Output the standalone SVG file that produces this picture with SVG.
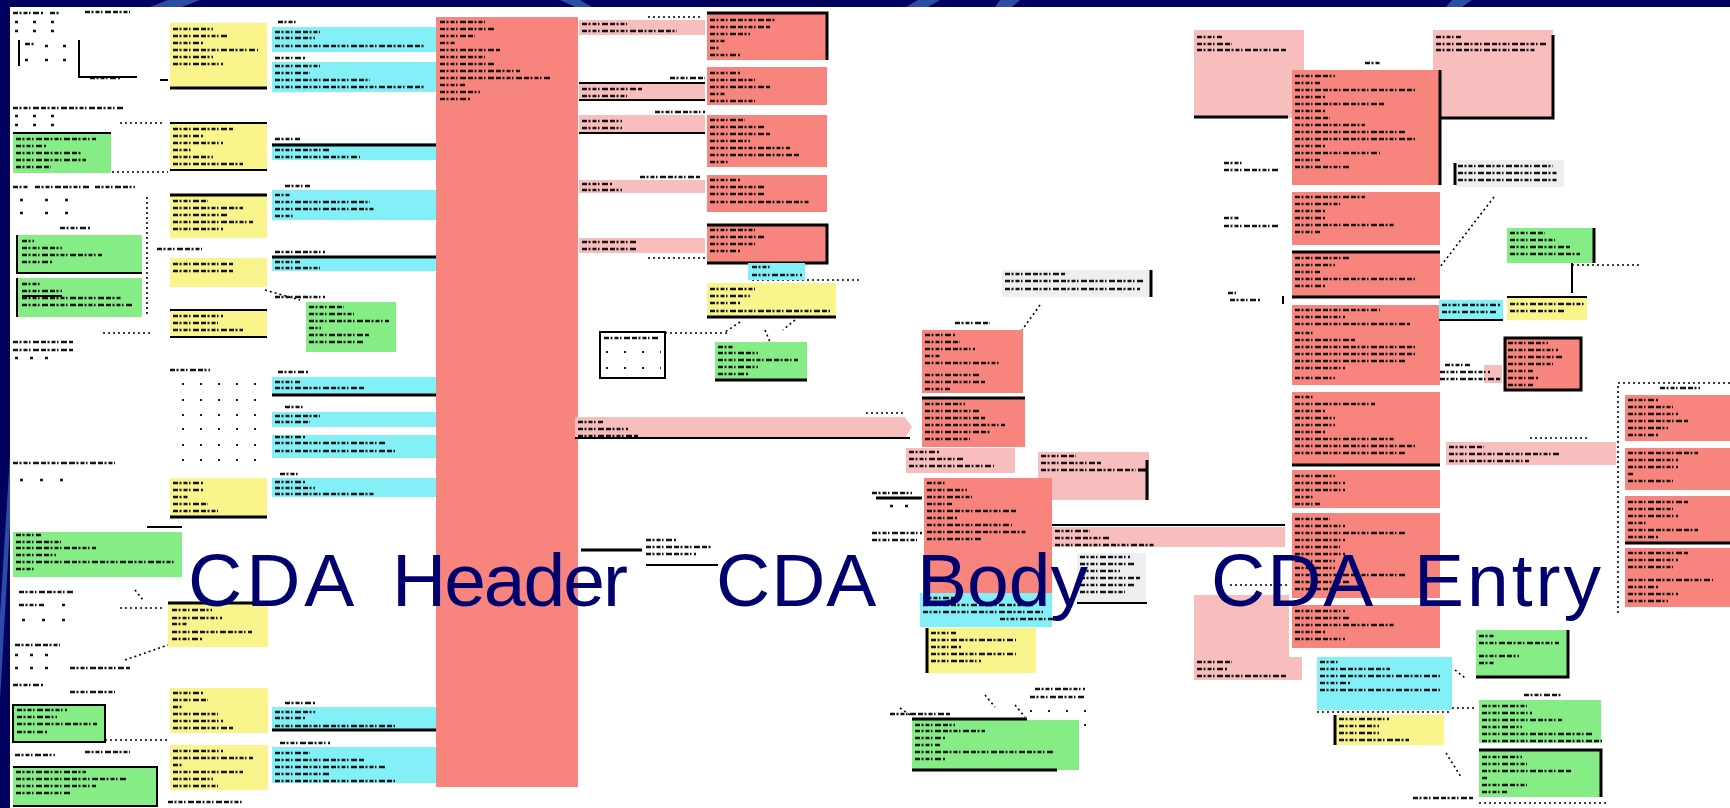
<svg xmlns="http://www.w3.org/2000/svg" width="1730" height="808" viewBox="0 0 1730 808">
<style>
.r{fill:#F7857D}.p{fill:#F8BEBE}.c{fill:#82F0F6}.y{fill:#F9F48B}.g{fill:#86EC86}.n{fill:#EFEFEF}
.tx{fill:none;stroke:#151515;stroke-width:2.4;stroke-dasharray:5 1.5 2 2 4 1.5 1.5 2.5 6 2}
.k{fill:none;stroke:#000;stroke-width:2}
.kb{fill:none;stroke:#000;stroke-width:3}
.d{fill:none;stroke:#000;stroke-width:1.6;stroke-dasharray:2 3}
.gd{fill:none;stroke:#222;stroke-width:2.2;stroke-dasharray:2 16}
.st{fill:#2C4CA6}
.lbl{font-family:"Liberation Sans",Arial,sans-serif;font-size:75px;fill:#00006E}
</style>
<g id="background">
<rect width="1730" height="808" fill="#01015F"/>
<path class="st" d="M168 0 H200 L182 7 H150 Z"/>
<path class="st" d="M560 0 H580 L592 7 H575 Z"/>
<path class="st" d="M918 0 H940 L928 7 H906 Z"/>
<path class="st" d="M1000 0 H1020 L1012 7 H995 Z"/>
<path class="st" d="M1452 0 H1472 L1462 7 H1446 Z"/>
<path class="st" d="M10 455 L10 525 L0 700 L0 615 Z"/>
<rect x="10" y="7" width="1720" height="801" fill="#FFFFFF"/>
</g>

<g id="connectors">
<path class="d" d="M112 172 H168 M120 123 H165 M147 197 V317 M103 333 H153 M265 290 L300 300 M135 590 L143 600 M120 608 H165 M125 660 L168 645 M100 740 H168"/>
<path class="d" d="M648 17 H703 M648 258 H774 M752 280 H860 M665 333 H728 M740 322 L725 332 M765 330 L770 342 M795 320 L783 330"/>
<path class="d" d="M866 413 H904 M1040 305 L1022 330 M985 695 L995 707 M1015 705 L1025 717 M900 708 L910 715"/>
<path class="d" d="M1494 197 L1440 267 M1572 265 H1642 M1530 438 H1590 M1230 585 H1290 M1317 712 H1452 M1452 708 H1474 M1455 670 L1465 678 M1446 753 L1461 777 M1479 803 H1609"/>
<path class="d" d="M1730 383 H1618 V613"/>
<path class="k" d="M1572 263 V293"/>
</g>

<g id="legend-choice">
<path class="tx" d="M13 13 h30 M50 13 h10 M85 12 h45 M15 22 h3 M33 22 h3 M51 22 h3 M15 31 h3 M33 31 h3 M51 31 h3 M25 44 h10 M45 46 h3 M63 46 h3 M25 60 h3 M45 60 h3 M63 60 h3 M90 78 h30"/>
<path class="k" d="M19 40 v26 M79 40 v37 h58 M160 80 h8"/>
</g>
<g id="Y1"><rect class="y" x="170" y="23" width="97" height="65"/><path class="tx" d="M173 29 h40 M173 36 h55 M173 43 h30 M173 50 h85 M173 57 h40 M173 64 h50"/><path class="kb" d="M170 88 h97"/></g>
<g id="C1"><rect class="c" x="272" y="27" width="164" height="25"/><path class="tx" d="M278 22 h20 M275 32 h45 M275 38 h40 M275 46 h150"/></g>
<g id="C2"><rect class="c" x="272" y="62" width="164" height="30"/><path class="tx" d="M275 58 h30 M275 66 h45 M275 73 h35 M275 80 h95 M275 87 h150"/></g>
<g id="legend2"><path class="tx" d="M13 108 h110 M15 116 h3 M33 116 h3 M51 116 h3 M15 125 h3 M33 125 h3 M51 125 h3"/></g>
<g id="G1"><rect class="g" x="13" y="133" width="98" height="40"/><path class="tx" d="M16 139 h80 M16 146 h30 M16 153 h65 M16 160 h70 M16 167 h35"/><path class="k" d="M13 133 h98"/></g>
<g id="Y2"><rect class="y" x="170" y="123" width="97" height="47"/><path class="tx" d="M173 129 h60 M173 136 h30 M173 143 h50 M173 150 h20 M173 157 h40 M173 164 h70"/><path class="k" d="M170 123 h97 M170 170 h97"/></g>
<g id="C3"><rect class="c" x="272" y="143" width="164" height="17"/><path class="tx" d="M275 139 h25 M275 150 h55 M275 157 h85"/><path class="kb" d="M272 145 h164"/></g>
<g id="legend3"><path class="tx" d="M13 187 h15 M35 187 h55 M95 187 h40 M20 200 h3 M45 200 h3 M65 200 h3 M20 213 h3 M45 213 h3 M65 213 h3 M60 228 h30"/></g>
<g id="Y3"><rect class="y" x="170" y="195" width="97" height="43"/><path class="tx" d="M173 201 h35 M173 208 h70 M173 215 h55 M173 222 h80 M173 229 h50"/><path class="kb" d="M170 195 h97"/></g>
<g id="C4"><rect class="c" x="272" y="190" width="164" height="30"/><path class="tx" d="M285 186 h25 M275 195 h15 M275 202 h95 M275 209 h100 M275 216 h20"/></g>
<g id="G2"><rect class="g" x="17" y="235" width="125" height="38"/><path class="tx" d="M22 241 h12 M22 248 h40 M22 255 h80 M22 262 h30"/><path class="k" d="M17 235 v38 h125"/></g>
<g id="G3"><rect class="g" x="17" y="278" width="125" height="39"/><path class="tx" d="M22 284 h20 M22 291 h40 M22 298 h100 M22 305 h110"/><path class="k" d="M17 278 v39 M22 296 h40"/></g>
<g id="label-a"><path class="tx" d="M157 249 h45"/></g>
<g id="Y4"><rect class="y" x="170" y="258" width="97" height="29"/><path class="tx" d="M173 264 h60 M173 271 h60"/></g>
<g id="C5"><rect class="c" x="272" y="258" width="164" height="13"/><path class="tx" d="M275 252 h50 M275 262 h25 M275 268 h45"/><path class="kb" d="M272 257 h164"/></g>
<g id="G4"><rect class="g" x="306" y="302" width="90" height="50"/><path class="tx" d="M275 297 h50 M309 307 h35 M309 314 h45 M309 321 h80 M309 328 h12 M309 335 h60 M309 342 h55"/></g>
<g id="Y5"><rect class="y" x="170" y="310" width="97" height="27"/><path class="tx" d="M173 316 h50 M173 323 h45 M173 330 h70"/><path class="k" d="M170 310 h97 M170 337 h97"/></g>
<g id="legend4"><path class="tx" d="M13 342 h60 M13 350 h60 M15 358 h3 M30 358 h3 M45 358 h3"/></g>
<g id="grid"><path class="tx" d="M170 370 h40"/><path class="gd" d="M182 384 h82 M182 400 h82 M182 415 h82 M182 429 h82 M182 445 h82 M182 460 h82"/></g>
<g id="C6"><rect class="c" x="272" y="377" width="164" height="18"/><path class="tx" d="M278 372 h30 M275 382 h25 M275 388 h90"/><path class="kb" d="M272 395 h164"/></g>
<g id="C7"><rect class="c" x="272" y="412" width="164" height="15"/><path class="tx" d="M285 407 h20 M275 416 h45 M275 422 h35"/></g>
<g id="C8"><rect class="c" x="272" y="435" width="164" height="23"/><path class="tx" d="M275 437 h30 M275 443 h110 M275 451 h120"/></g>
<g id="C9"><rect class="c" x="272" y="478" width="164" height="19"/><path class="tx" d="M280 474 h20 M275 482 h30 M275 488 h40 M275 494 h100"/></g>
<g id="Y6"><rect class="y" x="170" y="478" width="97" height="39"/><path class="tx" d="M173 483 h30 M173 490 h30 M173 497 h15 M173 504 h35 M173 511 h45"/><path class="kb" d="M170 517 h97"/></g>
<g id="legend5"><path class="tx" d="M13 463 h60 M70 463 h45 M20 480 h3 M40 480 h3 M60 480 h3"/></g>
<g id="G5"><rect class="g" x="13" y="532" width="169" height="45"/><path class="tx" d="M16 535 h25 M16 542 h45 M16 548 h80 M16 555 h40 M16 562 h160 M16 569 h20"/><path class="k" d="M147 527 h35"/></g>
<g id="legend6"><path class="tx" d="M19 592 h55 M19 605 h25 M62 605 h3 M22 620 h3 M42 620 h3 M62 620 h3 M15 645 h45 M15 655 h3 M30 655 h3 M45 655 h3 M15 668 h3 M30 668 h3 M45 668 h3 M70 668 h60 M13 685 h30 M70 692 h45"/></g>
<g id="Y7"><rect class="y" x="168" y="603" width="100" height="44"/><path class="tx" d="M172 610 h40 M172 618 h50 M172 624 h15 M172 632 h80 M172 639 h30"/><path class="kb" d="M168 603 h100"/></g>
<g id="G6"><rect class="g" x="13" y="705" width="92" height="37"/><path class="tx" d="M17 710 h50 M17 717 h40 M17 724 h80 M17 732 h30"/><rect class="k" x="13" y="705" width="92" height="37"/></g>
<g id="Y8"><rect class="y" x="170" y="688" width="98" height="45"/><path class="tx" d="M173 693 h30 M173 700 h35 M173 707 h10 M173 714 h45 M173 721 h50 M173 728 h60"/></g>
<g id="C10"><rect class="c" x="272" y="707" width="166" height="23"/><path class="tx" d="M285 703 h30 M275 712 h40 M275 718 h30 M275 726 h120"/><path class="kb" d="M272 730 h166"/></g>
<g id="legend7"><path class="tx" d="M15 755 h40 M85 752 h45 M168 802 h75"/></g>
<g id="G7"><rect class="g" x="13" y="767" width="144" height="40"/><path class="tx" d="M16 772 h70 M16 779 h110 M16 786 h80 M16 793 h55"/><path class="k" d="M13 767 h144 v39 h-144"/></g>
<g id="Y9"><rect class="y" x="170" y="745" width="98" height="45"/><path class="tx" d="M173 751 h50 M173 758 h80 M173 765 h10 M173 772 h70 M173 779 h40 M173 786 h45"/></g>
<g id="C11"><rect class="c" x="272" y="747" width="166" height="36"/><path class="tx" d="M280 743 h50 M275 753 h35 M275 760 h90 M275 767 h110 M275 774 h55 M275 781 h120"/></g>

<g id="ClinicalDocument"><rect class="r" x="436" y="17" width="142" height="770"/><path class="tx" d="M440 22 h45 M440 29 h55 M440 36 h35 M440 43 h15 M440 50 h60 M440 57 h45 M440 64 h55 M440 71 h80 M440 78 h110 M440 85 h25 M440 92 h40 M440 99 h30"/></g>

<g id="P1"><rect class="p" x="579" y="20" width="126" height="15"/><path class="tx" d="M582 24 h45 M582 31 h95"/></g>
<g id="RA"><rect class="r" x="707" y="13" width="120" height="47"/><path class="tx" d="M710 20 h65 M710 27 h60 M710 34 h40 M710 41 h15 M710 48 h10 M710 55 h30"/><path class="kb" d="M707 13 h120 v47"/></g>
<g id="P2"><rect class="p" x="579" y="82" width="126" height="18"/><path class="tx" d="M670 78 h35 M582 89 h60 M582 96 h45"/><path class="k" d="M579 83 h126 M579 100 h126"/></g>
<g id="RB"><rect class="r" x="707" y="67" width="120" height="38"/><path class="tx" d="M710 73 h30 M710 80 h45 M710 87 h60 M710 94 h15 M710 101 h45"/></g>
<g id="P3"><rect class="p" x="579" y="115" width="126" height="18"/><path class="tx" d="M655 112 h50 M582 121 h40 M582 128 h40"/><path class="k" d="M579 133 h126"/></g>
<g id="RC"><rect class="r" x="707" y="115" width="120" height="52"/><path class="tx" d="M710 120 h35 M710 127 h55 M710 134 h60 M710 141 h40 M710 148 h80 M710 155 h90 M710 162 h20"/></g>
<g id="P4"><rect class="p" x="579" y="180" width="126" height="13"/><path class="tx" d="M640 177 h60 M582 184 h30 M582 190 h40"/></g>
<g id="RD"><rect class="r" x="707" y="175" width="120" height="37"/><path class="tx" d="M710 180 h30 M710 187 h55 M710 194 h55 M710 202 h100"/></g>
<g id="P5"><rect class="p" x="579" y="238" width="126" height="15"/><path class="tx" d="M582 242 h55 M582 249 h55"/></g>
<g id="RE"><rect class="r" x="707" y="225" width="120" height="38"/><path class="tx" d="M710 230 h45 M710 237 h55 M710 244 h45 M710 251 h30"/><path class="kb" d="M707 225 h120 v38 h-120"/></g>
<g id="Cs"><rect class="c" x="748" y="263" width="57" height="17"/><path class="tx" d="M752 267 h20 M752 275 h50"/></g>
<g id="Ys"><rect class="y" x="707" y="283" width="129" height="34"/><path class="tx" d="M710 289 h45 M710 296 h40 M710 303 h30 M710 311 h120"/><path class="kb" d="M707 317 h129"/></g>
<g id="Gs"><rect class="g" x="715" y="342" width="92" height="38"/><path class="tx" d="M718 347 h15 M718 353 h40 M718 360 h80 M718 367 h40 M718 374 h30"/><path class="kb" d="M715 380 h92"/></g>
<g id="table1"><rect class="k" x="600" y="332" width="65" height="46"/><path class="tx" d="M604 338 h55"/><path class="gd" d="M606 352 h55 M606 368 h55"/></g>

<g id="Component"><path class="p" d="M575 417 H905 L912 427 L905 438 H575 Z"/><path class="tx" d="M578 422 h25 M578 429 h50 M578 436 h60"/><path class="k" d="M575 438 h335"/></g>
<g id="header-side"><path class="kb" d="M581 550 h61"/><path class="tx" d="M646 540 h30 M646 547 h65 M646 554 h50"/><path class="k" d="M646 565 h72"/></g>
<g id="Note1"><rect class="n" x="1002" y="270" width="149" height="27"/><path class="tx" d="M1005 274 h60 M1005 281 h140 M1005 289 h135 M955 323 h35"/><path class="kb" d="M1151 270 v27"/></g>
<g id="RF"><rect class="r" x="922" y="330" width="101" height="63"/><path class="tx" d="M925 335 h30 M925 342 h35 M925 349 h50 M925 356 h15 M925 363 h75 M925 375 h55 M925 382 h60 M925 389 h25"/></g>
<g id="RG"><rect class="r" x="922" y="398" width="103" height="49"/><path class="tx" d="M925 404 h40 M925 411 h55 M925 418 h60 M925 425 h80 M925 432 h65 M925 439 h45"/><path class="kb" d="M922 398 h103"/></g>
<g id="PH"><rect class="p" x="906" y="448" width="109" height="25"/><path class="tx" d="M909 452 h30 M909 459 h55 M909 466 h85"/></g>
<g id="PI"><rect class="p" x="1038" y="452" width="111" height="48"/><path class="tx" d="M1041 456 h35 M1041 463 h60 M1041 470 h95"/><path class="kb" d="M1147 460 v40 M1138 470 h9"/></g>
<g id="RJ"><rect class="r" x="924" y="478" width="128" height="115"/><path class="tx" d="M927 483 h20 M927 490 h40 M927 497 h45 M927 504 h25 M927 511 h90 M927 518 h30 M927 525 h85 M927 532 h100 M927 539 h55"/></g>
<g id="body-side"><path class="kb" d="M876 498 h46"/><path class="tx" d="M872 493 h40 M872 533 h50 M872 540 h45 M890 506 h3 M905 506 h3"/></g>
<g id="PK"><rect class="p" x="1052" y="527" width="233" height="20"/><path class="tx" d="M1055 531 h35 M1055 538 h55 M1055 545 h100"/><path class="k" d="M1052 525 h233"/></g>
<g id="Note2"><rect class="n" x="1077" y="553" width="69" height="50"/><path class="tx" d="M1080 557 h50 M1080 564 h55 M1080 571 h40 M1080 578 h60 M1080 585 h55 M1080 592 h45"/><path class="k" d="M1077 603 h70"/></g>
<g id="Cb"><rect class="c" x="920" y="593" width="132" height="34"/><path class="tx" d="M923 598 h35 M923 605 h110 M923 612 h120 M1000 619 h60"/></g>
<g id="Yb"><rect class="y" x="927" y="628" width="109" height="45"/><path class="tx" d="M931 633 h25 M931 640 h85 M931 647 h30 M931 654 h85 M931 661 h50"/><path class="kb" d="M927 628 v45"/></g>
<g id="table2"><path class="tx" d="M1035 689 h50 M1030 697 h55"/><path class="gd" d="M1030 711 h58 M1030 725 h58"/></g>
<g id="Gb"><rect class="g" x="912" y="720" width="167" height="50"/><path class="tx" d="M890 714 h60 M915 725 h40 M915 731 h70 M915 738 h30 M915 745 h25 M915 752 h140 M915 759 h30"/><path class="kb" d="M912 719 h115 M912 770 h145"/></g>

<g id="PL"><rect class="p" x="1194" y="30" width="110" height="88"/><path class="tx" d="M1197 37 h25 M1197 44 h35 M1197 50 h90"/><path class="kb" d="M1194 117 h94"/></g>
<g id="PM"><rect class="p" x="1433" y="30" width="120" height="88"/><path class="tx" d="M1436 37 h25 M1436 44 h110 M1436 50 h100 M1365 63 h15"/><path class="kb" d="M1553 35 v83 h-120"/></g>
<g id="RN"><rect class="r" x="1292" y="70" width="148" height="115"/><path class="tx" d="M1295 76 h40 M1295 83 h25 M1295 90 h120 M1295 97 h30 M1295 104 h90 M1295 111 h30 M1295 118 h35 M1295 125 h70 M1295 132 h110 M1295 139 h120 M1295 146 h30 M1295 153 h85 M1295 160 h25 M1295 167 h55"/><path class="kb" d="M1440 70 v115"/></g>
<g id="RO"><rect class="r" x="1292" y="192" width="148" height="53"/><path class="tx" d="M1295 197 h70 M1295 204 h45 M1295 211 h30 M1295 218 h30 M1295 225 h100 M1295 232 h25"/></g>
<g id="RP"><rect class="r" x="1292" y="252" width="148" height="45"/><path class="tx" d="M1295 258 h55 M1295 265 h40 M1295 272 h25 M1295 279 h120 M1295 286 h30"/><path class="kb" d="M1292 252 h148 M1292 297 h148"/></g>
<g id="RQ"><rect class="r" x="1292" y="305" width="148" height="80"/><path class="tx" d="M1295 310 h85 M1295 317 h50 M1295 324 h115 M1295 333 h20 M1295 340 h60 M1295 347 h120 M1295 354 h120 M1295 361 h110 M1295 368 h50 M1295 378 h40"/></g>
<g id="RR"><rect class="r" x="1292" y="392" width="148" height="73"/><path class="tx" d="M1295 397 h20 M1295 404 h80 M1295 411 h30 M1295 418 h40 M1295 425 h40 M1295 432 h30 M1295 439 h100 M1295 446 h120 M1295 453 h110"/><path class="kb" d="M1292 465 h148"/></g>
<g id="RS"><rect class="r" x="1292" y="470" width="148" height="38"/><path class="tx" d="M1295 476 h40 M1295 483 h50 M1295 490 h50 M1295 497 h20 M1295 504 h25"/></g>
<g id="RT"><rect class="r" x="1292" y="513" width="148" height="85"/><path class="tx" d="M1295 519 h35 M1295 526 h50 M1295 533 h110 M1295 540 h50 M1295 547 h45 M1295 554 h50 M1295 561 h40 M1295 568 h40 M1295 575 h110 M1295 582 h55 M1295 589 h60"/></g>
<g id="RU"><rect class="r" x="1292" y="605" width="148" height="43"/><path class="tx" d="M1295 611 h50 M1295 618 h55 M1295 625 h100 M1295 632 h30 M1295 639 h50"/></g>
<g id="entry-labels"><path class="tx" d="M1224 163 h20 M1224 170 h55 M1224 218 h15 M1224 226 h55 M1228 293 h8 M1230 300 h30"/><path class="k" d="M1283 296 v8"/></g>
<g id="Note3"><rect class="n" x="1455" y="160" width="109" height="27"/><path class="tx" d="M1458 166 h95 M1458 173 h100 M1458 180 h100"/><path class="kb" d="M1455 163 v22"/></g>
<g id="GY1"><rect class="g" x="1507" y="228" width="87" height="35"/><path class="tx" d="M1510 233 h35 M1510 240 h45 M1510 247 h60 M1510 254 h70"/><path class="kb" d="M1594 228 v35"/></g>
<g id="Ysm"><rect class="y" x="1507" y="297" width="80" height="23"/><path class="tx" d="M1510 304 h75 M1510 311 h55"/><path class="k" d="M1507 297 h80"/></g>
<g id="Csm"><rect class="c" x="1439" y="300" width="64" height="20"/><path class="tx" d="M1442 305 h58 M1442 312 h55"/><path class="k" d="M1439 320 h64"/></g>
<g id="Rsm"><rect class="r" x="1505" y="338" width="76" height="52"/><path class="tx" d="M1508 343 h40 M1508 350 h50 M1508 357 h55 M1508 364 h45 M1508 371 h25 M1508 378 h30 M1508 385 h25"/><rect class="kb" x="1505" y="338" width="76" height="52"/></g>
<g id="rsm-label"><rect class="p" x="1484" y="365" width="18" height="18"/><path class="tx" d="M1445 365 h25 M1440 372 h50 M1440 379 h60"/></g>
<g id="Pchoice"><rect class="p" x="1446" y="442" width="170" height="23"/><path class="tx" d="M1449 447 h35 M1449 454 h110 M1449 461 h80"/></g>
<g id="choice"><path class="tx" d="M1660 388 h40"/></g>
<g id="CR1"><rect class="r" x="1625" y="395" width="105" height="46"/><path class="tx" d="M1628 400 h30 M1628 407 h45 M1628 414 h50 M1628 421 h60 M1628 428 h40 M1628 435 h30"/></g>
<g id="CR2"><rect class="r" x="1625" y="448" width="105" height="42"/><path class="tx" d="M1628 453 h70 M1628 460 h50 M1628 467 h50 M1628 474 h5 M1628 481 h45"/></g>
<g id="CR3"><rect class="r" x="1625" y="496" width="105" height="47"/><path class="tx" d="M1628 502 h60 M1628 509 h45 M1628 516 h50 M1628 523 h20 M1628 530 h70 M1628 537 h30"/><path class="kb" d="M1625 543 h105"/></g>
<g id="CR4"><rect class="r" x="1625" y="548" width="105" height="59"/><path class="tx" d="M1628 553 h60 M1628 560 h50 M1628 567 h45 M1628 580 h85 M1628 587 h30 M1628 594 h50 M1628 601 h40"/></g>
<g id="PV"><path class="p" d="M1194 595 H1289 V657 H1302 V680 H1194 Z"/><path class="tx" d="M1197 662 h35 M1197 669 h30 M1197 676 h90"/></g>
<g id="CW"><rect class="c" x="1317" y="657" width="135" height="53"/><path class="tx" d="M1320 662 h20 M1320 669 h70 M1320 676 h120 M1320 683 h30 M1320 690 h120"/></g>
<g id="YX"><rect class="y" x="1335" y="715" width="109" height="30"/><path class="tx" d="M1339 719 h50 M1339 726 h40 M1339 733 h40 M1339 740 h70"/><path class="kb" d="M1335 715 v30"/></g>
<g id="GY"><rect class="g" x="1476" y="630" width="92" height="47"/><path class="tx" d="M1479 636 h15 M1479 643 h80 M1479 656 h40 M1479 663 h15"/><path class="kb" d="M1568 630 v47 h-92"/></g>
<g id="GZ"><rect class="g" x="1479" y="700" width="122" height="43"/><path class="tx" d="M1524 695 h37 M1482 706 h45 M1482 713 h50 M1482 720 h80 M1482 727 h40 M1482 734 h110 M1482 741 h120"/></g>
<g id="GAA"><rect class="g" x="1479" y="750" width="122" height="47"/><path class="tx" d="M1482 757 h40 M1482 764 h45 M1482 771 h90 M1482 778 h5 M1482 785 h45 M1482 792 h25 M1413 798 h60"/><path class="kb" d="M1479 750 h122 v47"/></g>

<g id="labels">
<text class="lbl" x="188" y="606"><tspan letter-spacing="4">CDA </tspan><tspan x="392" letter-spacing="-2">Header</tspan></text>
<text class="lbl" x="716" y="606"><tspan letter-spacing="1">CDA </tspan><tspan x="917">Body</tspan></text>
<text class="lbl" x="1211" y="606"><tspan letter-spacing="2">CDA </tspan><tspan x="1414" letter-spacing="3">Entry</tspan></text>
</g>
</svg>
